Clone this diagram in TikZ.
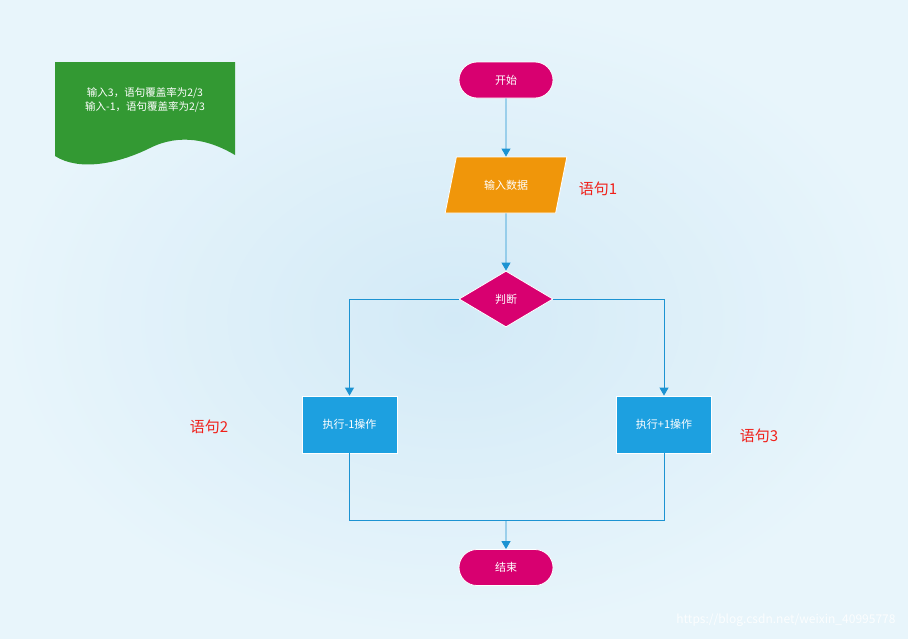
\documentclass[tikz,border=0pt]{standalone}
\usepackage{fontspec}
\setmainfont{Noto Sans CJK SC}
\usetikzlibrary{shapes.geometric,shapes.misc,arrows.meta,positioning}
\definecolor{bgin}{HTML}{D3EAF7}
\definecolor{bgout}{HTML}{E8F5FB}
\definecolor{pinkc}{HTML}{D80070}
\definecolor{orangec}{HTML}{F0960A}
\definecolor{bluebox}{HTML}{1DA0E0}
\definecolor{greenc}{HTML}{339933}
\definecolor{linec}{HTML}{1C93D2}
\definecolor{redc}{HTML}{F0201A}
\tikzset{
  txt/.style={text=white,font=\fontsize{11}{13}\selectfont},
  term/.style={txt,rounded rectangle,fill=pinkc,draw=white,line width=0.8pt,minimum width=94pt,minimum height=36pt,inner sep=0pt},
  inbox/.style={txt,trapezium,trapezium left angle=64,trapezium right angle=116,trapezium stretches=true,fill=orangec,draw=white,line width=0.8pt,minimum width=122pt,minimum height=56pt,inner sep=0pt},
  decide/.style={txt,diamond,fill=pinkc,draw=white,line width=0.8pt,minimum width=94pt,minimum height=56pt,inner sep=0pt},
  opbox/.style={txt,rectangle,fill=bluebox,draw=white,line width=0.8pt,minimum width=95pt,minimum height=57pt,inner sep=0pt},
  conn/.style={draw=linec,line width=0.9pt,-{Triangle[width=9pt,length=8pt]}},
  plain/.style={draw=linec,line width=0.9pt},
  lab/.style={text=redc,font=\fontsize{15}{18}\selectfont},
}
\begin{document}
\begin{tikzpicture}[x=1pt,y=-1pt]
\useasboundingbox (0,0) rectangle (908,638);
\shade[inner color=bgin,outer color=bgout] (0,0) rectangle (908,638);
% document note
\fill[greenc] (55,62) -- (235,62) -- (235,155)
  .. controls (210,140) and (180,133) .. (150,148)
  .. controls (120,163) and (80,172) .. (55,156) -- cycle;
\node[txt,align=center,font=\fontsize{10.5}{14}\selectfont] (note) at (145,100) {输入3，语句覆盖率为2/3\\输入-1，语句覆盖率为2/3};
% nodes
\node[term] (start) at (506,80) {开始};
\node[inbox] (in) at (506,185) {输入数据};
\node[decide] (dec) at (506,299) {判断};
\node[opbox] (lbox) at (349.5,424.5) {执行-1操作};
\node[opbox] (rbox) at (664,424.5) {执行+1操作};
\node[term] (stop) at (506,567.5) {结束};
\coordinate (m) at (506,520);
% labels
\node[lab] (l1) at (598,189) {语句1};
\node[lab] (l2) at (209,427) {语句2};
\node[lab] (l3) at (759,436) {语句3};
% connectors
\draw[conn] (start) -- (in);
\draw[conn] (in) -- (dec);
\draw[conn] (dec.west) -| (lbox.north);
\draw[conn] (dec.east) -| (rbox.north);
\draw[plain] (lbox.south) |- (m);
\draw[plain] (rbox.south) |- (m);
\draw[conn] (m) -- (stop);
% watermark
\node[text=white,opacity=0.85,font=\fontsize{12}{14}\selectfont,anchor=east] (wm) at (899,620) {https://blog.csdn.net/weixin\_40995778};
\end{tikzpicture}
\end{document}
